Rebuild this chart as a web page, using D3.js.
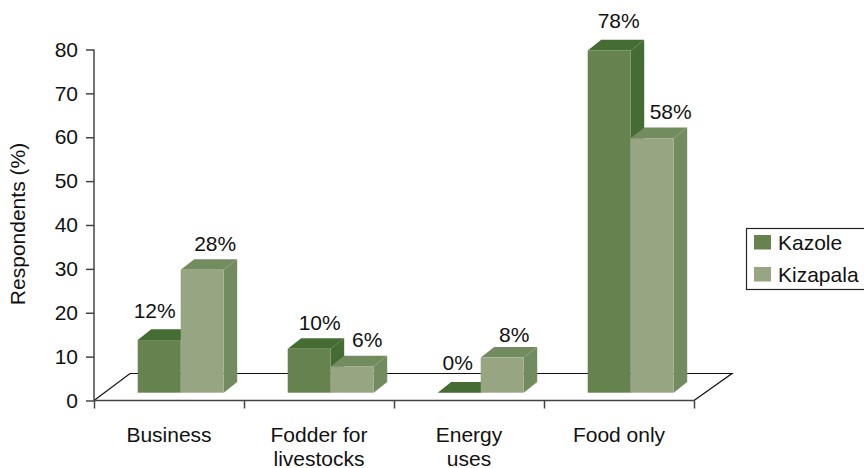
<!DOCTYPE html>
<html><head><meta charset="utf-8">
<script src="https://cdnjs.cloudflare.com/ajax/libs/d3/7.8.5/d3.min.js"></script>
<style>html,body{margin:0;padding:0;background:#fff}svg{display:block}text{font-family:"Liberation Sans",Arial,sans-serif;fill:#111}</style>
</head><body><svg id="c" width="864" height="468"></svg>
<script>
const categories = [["Business"],["Fodder for","livestocks"],["Energy","uses"],["Food only"]];
const seriesNames = ["Kazole","Kizapala"];
const kazole = [12,10,0,78];
const kizapala = [28,6,8,58];
const yTicks = [0,10,20,30,40,50,60,70,80];

const palette = [
  {front:"#66834f",top:"#456c32",side:"#456c32"},
  {front:"#98a582",top:"#738c5f",side:"#738c5f"}
];
// small label nudges relative to the bar's front-top centre, [dx, baseline rise]
const nudge = [
  [[-4.5,22],[10.5,19],[-1.5,23],[9.5,22]],
  [[13,19],[15,19],[12,16],[18.5,19]]
];
const svg = d3.select("#c");
const x = d3.scaleBand().domain(d3.range(categories.length)).range([94,694]);
const y = d3.scaleLinear().domain([0,80]).range([400.5,49.5]);
const inner = d3.scaleBand().domain([0,1]).range([43.7,129.7]);
const lift = 7.8, dx = 13.5, dy = 10.7;
const baseY = y(0)-lift;
const fs = 21;

// floor
svg.append("path")
  .attr("d",`M94,${y(0)}L${94+36},${y(0)-27}H${694+38}L694,${y(0)}`)
  .attr("fill","none").attr("stroke","#111").attr("stroke-width",1.2);

// bars
[kazole,kizapala].forEach((vals,s)=>{
  const g = svg.append("g");
  const c = palette[s];
  vals.forEach((v,i)=>{
    const x0 = x(i)+inner(s), w = inner.bandwidth(), yt = y(v)-lift;
    if(v>0) g.append("path")
      .attr("d",`M${x0+w},${yt}l${dx},${-dy}V${baseY-dy}l${-dx},${dy}Z`).attr("fill",c.side);
    g.append("path")
      .attr("d",`M${x0},${yt}l${dx},${-dy}h${w}l${-dx},${dy}Z`).attr("fill",c.top);
    if(v>0) g.append("rect").attr("x",x0).attr("y",yt).attr("width",w).attr("height",baseY-yt).attr("fill",c.front);
  });
});

// axes
const axisColor="#444";
const yAxis = svg.append("g").attr("transform","translate(94,0)")
  .call(d3.axisLeft(y).tickValues(yTicks).tickSize(8).tickPadding(8));
const xAxis = svg.append("g").attr("transform",`translate(0,${y(0)})`)
  .call(d3.axisBottom(d3.scaleLinear().domain([0,4]).range([94,694])).ticks(4).tickFormat("").tickSize(8));
[yAxis,xAxis].forEach(a=>{
  a.selectAll("path,line").attr("stroke",axisColor).attr("stroke-width",1.5);
  a.select(".domain").attr("d",a===yAxis?`M0,${y(80)}V${y(0)}`:`M94,0H694`);
});
yAxis.selectAll("text").attr("font-size",fs).attr("font-family",'"Liberation Sans"').attr("fill","#111");

// category labels
categories.forEach((lines,i)=>{
  lines.forEach((t,j)=>{
    svg.append("text").attr("x",x(i)+x.bandwidth()/2).attr("y",442+j*23.5)
      .attr("text-anchor","middle").attr("font-size",fs).text(t);
  });
});

// value labels
[kazole,kizapala].forEach((vals,s)=>{
  vals.forEach((v,i)=>{
    svg.append("text")
      .attr("x",x(i)+inner(s)+inner.bandwidth()/2+nudge[s][i][0])
      .attr("y",y(v)-lift-nudge[s][i][1])
      .attr("text-anchor","middle").attr("font-size",fs).text(v+"%");
  });
});

// y title
svg.append("text").attr("transform","translate(25,224) rotate(-90)")
  .attr("text-anchor","middle").attr("font-size",fs).text("Respondents (%)");

// legend
const lg = svg.append("g");
lg.append("rect").attr("x",746.5).attr("y",228.5).attr("width",130).attr("height",61)
  .attr("fill","#fff").attr("stroke","#222").attr("stroke-width",1.2);
seriesNames.forEach((n,i)=>{
  lg.append("rect").attr("x",754).attr("y",235+i*32).attr("width",17).attr("height",14.5).attr("fill",palette[i].front);
  lg.append("text").attr("x",778).attr("y",249.5+i*32).attr("font-size",fs).text(n);
});
</script></body></html>
